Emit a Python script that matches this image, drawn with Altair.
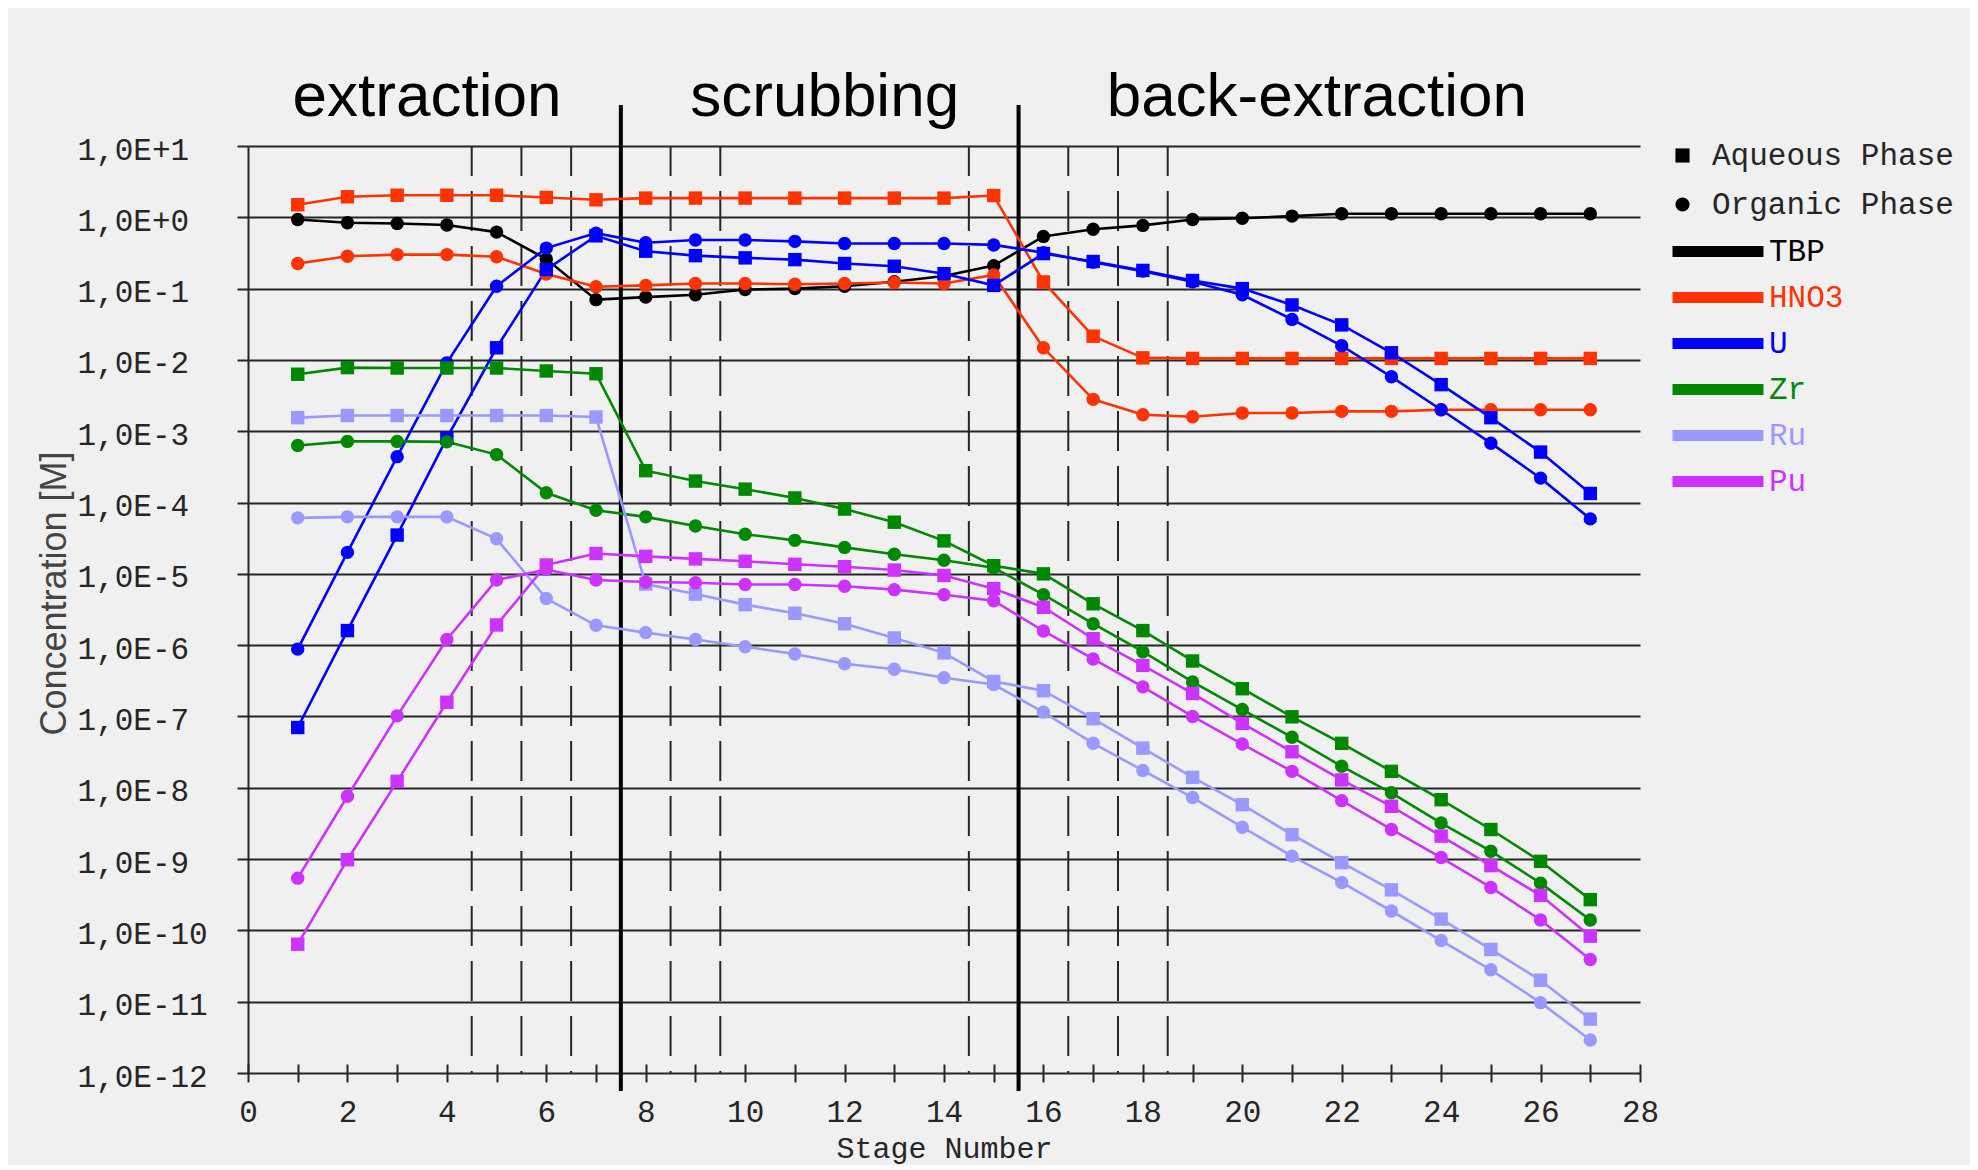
import altair as alt
import pandas as pd

# ---------------- data ----------------
stages = list(range(1, 28))
species = ["TBP", "HNO3", "U", "Zr", "Ru", "Pu"]
species_colors = ["#000000", "#ff3300", "#0000ff", "#008800", "#9999ff", "#cc33ff"]
phases = ["Aqueous Phase", "Organic Phase"]
phase_shapes = ["square", "circle"]

tbp_org = [0.93, 0.84, 0.82, 0.78, 0.62, 0.26, 0.070, 0.076, 0.082, 0.097, 0.10, 0.108, 0.125, 0.15,
           0.21, 0.54, 0.68, 0.77, 0.93, 0.97, 1.04, 1.12, 1.12, 1.12, 1.12, 1.12, 1.12]

hno3_aq = [1.5, 1.94, 2.04, 2.04, 2.04, 1.9, 1.76, 1.86, 1.86, 1.86, 1.86, 1.86, 1.86, 1.86,
           2.02, 0.124, 0.0215, 0.0107, 0.0105, 0.0105, 0.0105, 0.0105, 0.0105, 0.0105, 0.0105, 0.0105, 0.0105]
hno3_org = [0.225, 0.285, 0.30, 0.30, 0.28, 0.16, 0.106, 0.111, 0.118, 0.118, 0.115, 0.118, 0.122, 0.118,
            0.155, 0.0148, 0.0028, 0.0017, 0.0016, 0.0018, 0.0018, 0.0019, 0.0019, 0.002, 0.002, 0.002, 0.002]

u_aq = [7.0e-8, 1.6e-6, 3.5e-5, 8e-4, 0.0148, 0.185, 0.55, 0.335, 0.29, 0.27, 0.255, 0.225, 0.206, 0.162,
        0.111, 0.31, 0.24, 0.18, 0.13, 0.10, 0.059, 0.031, 0.0126, 0.0045, 0.00155, 5.1e-4, 1.34e-4]
u_org = [8.8e-7, 2.0e-5, 4.4e-4, 0.0091, 0.108, 0.37, 0.6, 0.44, 0.48, 0.48, 0.46, 0.43, 0.43, 0.43,
         0.41, 0.32, 0.235, 0.176, 0.125, 0.082, 0.037, 0.0158, 0.0058, 0.0020, 6.8e-4, 2.2e-4, 5.9e-5]

zr_aq = [0.0063, 0.0078, 0.0077, 0.0077, 0.0077, 0.0070, 0.0064, 2.8e-4, 2.0e-4, 1.54e-4, 1.16e-4, 8.1e-5,
         5.3e-5, 2.9e-5, 1.3e-5, 1.0e-5, 3.8e-6, 1.6e-6, 6.0e-7, 2.45e-7, 9.9e-8, 4.2e-8, 1.7e-8, 6.8e-9,
         2.6e-9, 9.3e-10, 2.7e-10]
zr_org = [6.3e-4, 7.2e-4, 7.2e-4, 7.1e-4, 4.7e-4, 1.37e-4, 7.8e-5, 6.3e-5, 4.7e-5, 3.6e-5, 2.95e-5, 2.35e-5,
          1.88e-5, 1.55e-5, 1.22e-5, 5.1e-6, 2.0e-6, 8.1e-7, 3.05e-7, 1.25e-7, 5.1e-8, 2.0e-8, 8.5e-9,
          3.2e-9, 1.29e-9, 4.6e-10, 1.4e-10]

ru_aq = [1.55e-3, 1.66e-3, 1.66e-3, 1.66e-3, 1.66e-3, 1.66e-3, 1.58e-3, 7.2e-6, 5.2e-6, 3.7e-6, 2.8e-6,
         2.0e-6, 1.26e-6, 7.8e-7, 3.1e-7, 2.3e-7, 9.3e-8, 3.6e-8, 1.4e-8, 5.8e-9, 2.2e-9, 8.9e-10,
         3.7e-10, 1.44e-10, 5.4e-11, 2.0e-11, 5.7e-12]
ru_org = [6.1e-5, 6.3e-5, 6.3e-5, 6.3e-5, 3.1e-5, 4.5e-6, 1.9e-6, 1.5e-6, 1.2e-6, 9.5e-7, 7.5e-7, 5.5e-7,
          4.6e-7, 3.5e-7, 2.8e-7, 1.15e-7, 4.2e-8, 1.75e-8, 7.3e-9, 2.8e-9, 1.1e-9, 4.7e-10, 1.87e-10,
          7.2e-11, 2.8e-11, 9.7e-12, 2.9e-12]

pu_aq = [6.4e-11, 9.8e-10, 1.23e-8, 1.58e-7, 1.92e-6, 1.33e-5, 1.93e-5, 1.76e-5, 1.62e-5, 1.5e-5, 1.36e-5,
         1.26e-5, 1.13e-5, 9.5e-6, 6.2e-6, 3.4e-6, 1.23e-6, 5.2e-7, 2.1e-7, 8.0e-8, 3.2e-8, 1.29e-8,
         5.5e-9, 2.1e-9, 8.1e-10, 3.1e-10, 8.3e-11]
pu_org = [5.4e-10, 7.6e-9, 1.02e-7, 1.2e-6, 8.2e-6, 1.15e-5, 8.2e-6, 7.7e-6, 7.5e-6, 7.1e-6, 7.1e-6, 6.7e-6,
          6.0e-6, 5.1e-6, 4.2e-6, 1.58e-6, 6.4e-7, 2.6e-7, 1.0e-7, 4.1e-8, 1.7e-8, 6.6e-9, 2.6e-9,
          1.05e-9, 4.0e-10, 1.4e-10, 3.9e-11]

section_names = ["extraction", "scrubbing", "back-extraction"]
section_centers = [3.6, 11.6, 21.5]
section_bounds = [7.5, 15.5]
stage_dividers = [4.5, 5.5, 6.5, 8.5, 9.5, 14.5, 16.5, 17.5, 18.5]

x_tick_values = list(range(0, 29))
y_tick_values = [1e-12, 1e-11, 1e-10, 1e-9, 1e-8, 1e-7, 1e-6, 1e-5, 1e-4, 1e-3, 1e-2, 1e-1, 1.0, 10.0]
y_tick_labels = ["1,0E-12", "1,0E-11", "1,0E-10", "1,0E-9", "1,0E-8", "1,0E-7", "1,0E-6",
                 "1,0E-5", "1,0E-4", "1,0E-3", "1,0E-2", "1,0E-1", "1,0E+0", "1,0E+1"]

series = [
    ("TBP", "Organic Phase", tbp_org),
    ("HNO3", "Aqueous Phase", hno3_aq),
    ("HNO3", "Organic Phase", hno3_org),
    ("U", "Aqueous Phase", u_aq),
    ("U", "Organic Phase", u_org),
    ("Zr", "Aqueous Phase", zr_aq),
    ("Zr", "Organic Phase", zr_org),
    ("Ru", "Aqueous Phase", ru_aq),
    ("Ru", "Organic Phase", ru_org),
    ("Pu", "Aqueous Phase", pu_aq),
    ("Pu", "Organic Phase", pu_org),
]
rows = []
for sp, ph, vals in series:
    for s, v in zip(stages, vals):
        rows.append({"stage": s, "conc": v, "species": sp, "phase": ph, "series": sp + " / " + ph})
df = pd.DataFrame(rows)

# ---------------- styling ----------------
MONO = "Liberation Mono"
SANS = "Liberation Sans"
INK = "#262626"

x_scale = alt.Scale(domain=[0, 28], nice=False, zero=False)
y_scale = alt.Scale(type="log", domain=[1e-12, 10], nice=False)
color_scale = alt.Scale(domain=species, range=species_colors)
shape_scale = alt.Scale(domain=phases, range=phase_shapes)

y_label_expr = "[" + ",".join("'%s'" % l for l in y_tick_labels) + "][round(log(datum.value)/LN10) + 12]"
label_color_expr = "".join("datum.label === '%s' ? '%s' : " % (s, c) for s, c in zip(species, species_colors)) + "'%s'" % INK

x_axis = alt.Axis(
    values=x_tick_values, format="d",
    labelExpr="datum.value % 2 === 0 ? datum.label : ''",
    grid=False, domain=False, offset=-9, tickSize=18, tickWidth=2, tickColor=INK,
    labelFont=MONO, labelFontSize=31, labelColor=INK, labelPadding=15,
    labelFlush=False, labelOverlap=False, labelBaseline="top",
    title="Stage Number", titleFont=MONO, titleFontSize=30, titleFontWeight="normal",
    titleColor=INK, titleBaseline="top", titleY=69,
)
y_axis = alt.Axis(
    values=y_tick_values, labelExpr=y_label_expr,
    grid=True, gridColor=INK, gridWidth=2, gridOpacity=1,
    domain=True, domainColor=INK, domainWidth=2,
    tickSize=11, tickWidth=2, tickColor=INK,
    labelFont=MONO, labelFontSize=31, labelColor=INK, labelAlign="left",
    labelBaseline="middle", labelPadding=160, labelOffset=4,
    labelFlush=False, labelOverlap=False,
    title="Concentration [M]", titleFont=SANS, titleFontSize=36, titleFontWeight="normal",
    titleColor="#444444", titleAngle=270, titleAlign="center", titleBaseline="middle",
    titleX=-194, titleY=447,
)

# legend line symbol: a horizontal stroke drawn to the right of the symbol slot
color_legend = alt.Legend(
    title=None, orient="none", legendX=1419, legendY=89, direction="vertical",
    symbolType="M-1,0H7.27", symbolSize=484, symbolStrokeWidth=11,
    labelFont=MONO, labelFontSize=31, labelOffset=69, labelLimit=400,
    labelColor=alt.ExprRef(expr=label_color_expr),
    rowPadding=1, padding=0, offset=0,
)
shape_legend = alt.Legend(
    title=None, orient="none", legendX=1419, legendY=-6, direction="vertical",
    symbolFillColor="#000000", symbolStrokeColor="#000000", symbolSize=200, symbolStrokeWidth=0,
    labelFont=MONO, labelFontSize=31, labelOffset=14, labelColor=INK, labelLimit=400,
    rowPadding=17, padding=0, offset=0,
)

# ---------------- layers ----------------
dashed = alt.Chart(pd.DataFrame({"pos": stage_dividers})).mark_rule(
    strokeDash=[40, 15], strokeDashOffset=10, color=INK, strokeWidth=2
).encode(x=alt.X("pos:Q", scale=x_scale, axis=x_axis))

thick = alt.Chart(pd.DataFrame({"pos": section_bounds})).mark_rule(
    color="#000000", strokeWidth=4
).encode(x=alt.X("pos:Q", scale=x_scale, axis=x_axis), y=alt.value(-41), y2=alt.value(945))

lines = alt.Chart(df).mark_line(strokeWidth=2.6).encode(
    x=alt.X("stage:Q", scale=x_scale, axis=x_axis),
    y=alt.Y("conc:Q", scale=y_scale, axis=y_axis),
    color=alt.Color("species:N", scale=color_scale, legend=color_legend),
    detail="series:N",
)

points = alt.Chart(df).mark_point(filled=True, opacity=1, size=180).encode(
    x=alt.X("stage:Q", scale=x_scale, axis=x_axis),
    y=alt.Y("conc:Q", scale=y_scale, axis=y_axis),
    color=alt.Color("species:N", scale=color_scale, legend=None),
    shape=alt.Shape("phase:N", scale=shape_scale, legend=shape_legend),
)

sections = alt.Chart(pd.DataFrame({"label": section_names, "center": section_centers})).mark_text(
    font=SANS, fontSize=62, baseline="alphabetic", align="center", color="#000000"
).encode(x=alt.X("center:Q", scale=x_scale, axis=x_axis), y=alt.value(-30), text="label:N")

chart = alt.layer(dashed, thick, lines, points, sections).properties(
    width=1392, height=927, background="#f0f0f0",
    padding={"left": 240, "top": 138, "right": 330, "bottom": 92},
    autosize=alt.AutoSizeParams(type="none"),
).configure_view(stroke=None)

chart.save("out.html", embed_options={"renderer": "svg", "actions": False})
